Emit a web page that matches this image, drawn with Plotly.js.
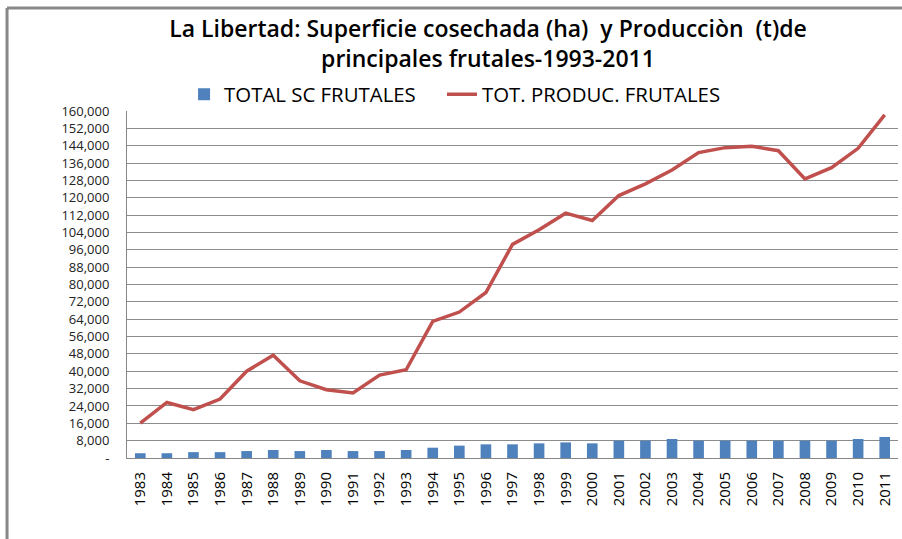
<!DOCTYPE html>
<html>
<head>
<meta charset="utf-8">
<script src="https://cdn.plot.ly/plotly-3.0.1.min.js"></script>
<style>html,body{margin:0;padding:0;background:#fff;}#chart{width:902px;height:539px;}</style>
</head>
<body>
<div id="chart"></div>
<script>
const years = ['1983','1984','1985','1986','1987','1988','1989','1990','1991','1992','1993','1994','1995','1996','1997','1998','1999','2000','2001','2002','2003','2004','2005','2006','2007','2008','2009','2010','2011'];
const superficie = [2200,2200,2700,2700,3200,3700,3200,3700,3200,3200,3700,4750,5700,6300,6300,6750,7200,6750,8000,8000,8750,8000,8000,8000,8000,8000,8000,8750,9700];
const produccion = [16100,25600,22300,27200,40000,47400,35600,31500,30000,38200,40700,63000,67300,76300,98500,105200,112900,109500,121000,126400,132800,140800,143100,143700,141700,128700,133900,142800,158200];
const tickVals = [0,8000,16000,24000,32000,40000,48000,56000,64000,72000,80000,88000,96000,104000,112000,120000,128000,136000,144000,152000,160000];
const tickText = ['-','8,000','16,000','24,000','32,000','40,000','48,000','56,000','64,000','72,000','80,000','88,000','96,000','104,000','112,000','120,000','128,000','136,000','144,000','152,000','160,000'];

const font = '"Open Sans", Roboto, sans-serif';
const traces = [
  {type:'bar', x:years, y:superficie, name:'TOTAL SC FRUTALES\u00A0\u00A0\u00A0\u00A0', marker:{color:'#4F81BD'}},
  {type:'scatter', mode:'lines', x:years, y:produccion, name:'TOT. PRODUC. FRUTALES', line:{color:'#C0504D', width:3.5}}
];
const layout = {
  width:902, height:539,
  margin:{l:127, r:4, t:111, b:81},
  paper_bgcolor:'#fff', plot_bgcolor:'#fff',
  bargap:0.6,
  showlegend:true,
  title:{text:'La Libertad: Superficie cosechada (ha)\u00A0 y Producciòn\u00A0 (t)de<br>principales frutales-1993-2011',
    font:{family:font, size:23, color:'#000', weight:600}, x:0.541, xref:'container', xanchor:'center', y:0.932, yref:'container', yanchor:'middle'},
  legend:{orientation:'h', x:0.074, xanchor:'left', y:0.99, yanchor:'bottom', font:{family:font, size:20.4, color:'#000'}, bgcolor:'rgba(0,0,0,0)', itemwidth:30, tracegroupgap:0},
  xaxis:{type:'category', tickangle:-90, tickfont:{family:font, size:15, color:'#000'}, showgrid:false, showline:true, linecolor:'#888', linewidth:1, ticks:'outside', ticklen:7, tickcolor:'rgba(0,0,0,0)', automargin:false, fixedrange:true},
  yaxis:{range:[0,160000], tickvals:tickVals, ticktext:tickText, tickfont:{family:font, size:13, color:'#222'}, showgrid:true, gridcolor:'#8c8c8c', gridwidth:1, showline:true, linecolor:'#888', linewidth:1, ticks:'outside', ticklen:14, tickcolor:'rgba(0,0,0,0)', zeroline:false, automargin:false, fixedrange:true},
  shapes:[
    {type:'line', xref:'paper', yref:'paper', x0:-0.1556, x1:1.01, y0:1.297, y1:1.297, line:{color:'#888', width:3}},
    {type:'line', xref:'paper', yref:'paper', x0:-0.1556, x1:-0.1556, y0:1.297, y1:-0.26, line:{color:'#888', width:3}}
  ]
};
Plotly.newPlot('chart', traces, layout, {displayModeBar:false, staticPlot:true});
</script>
</body>
</html>
